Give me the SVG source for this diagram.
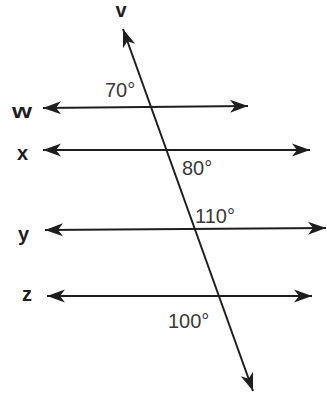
<svg xmlns="http://www.w3.org/2000/svg" width="327" height="396" viewBox="0 0 327 396">
<style>
.ln{stroke:#1e1e1e;stroke-width:2;fill:none;marker-start:url(#ah);marker-end:url(#ah)}
.lbl{font-family:"Liberation Sans",Arial,sans-serif;font-weight:bold;font-size:20px;fill:#1e1e1e}
.ang{font-family:"Liberation Sans",Arial,sans-serif;font-size:20px;fill:#3a3a3a}
</style>
<defs>
<marker id="ah" markerUnits="userSpaceOnUse" markerWidth="20" markerHeight="16" viewBox="-19 -8 20 16" refX="0" refY="0" orient="auto-start-reverse">
<path d="M0,0 L-18,-6.5 L-13,0 L-18,6.5 Z" fill="#1e1e1e"/>
</marker>
</defs>
<rect width="327" height="396" fill="#ffffff"/>
<g id="connectors">
<line id="line-w" class="ln" x1="43" y1="108" x2="248" y2="106"/>
<line id="line-x" class="ln" x1="43" y1="150" x2="310" y2="150"/>
<line id="line-y" class="ln" x1="45" y1="230" x2="326" y2="228"/>
<line id="line-z" class="ln" x1="47" y1="296" x2="312" y2="296"/>
<line id="line-v" class="ln" x1="123" y1="29" x2="253" y2="391"/>
</g>
<g id="label-v"><text class="lbl" x="121" y="17" text-anchor="middle" font-size="17">v</text></g>
<g id="label-w"><text class="lbl" x="12" y="118" textLength="20" lengthAdjust="spacingAndGlyphs">w</text></g>
<g id="label-x"><text class="lbl" x="17" y="160">x</text></g>
<g id="label-y"><text class="lbl" x="18" y="241">y</text></g>
<g id="label-z"><text class="lbl" x="22" y="301">z</text></g>
<g id="angle-70"><text class="ang" x="105" y="97">70°</text></g>
<g id="angle-80"><text class="ang" x="182" y="175">80°</text></g>
<g id="angle-110"><text class="ang" x="195" y="223">110°</text></g>
<g id="angle-100"><text class="ang" x="168" y="328">100°</text></g>
</svg>
